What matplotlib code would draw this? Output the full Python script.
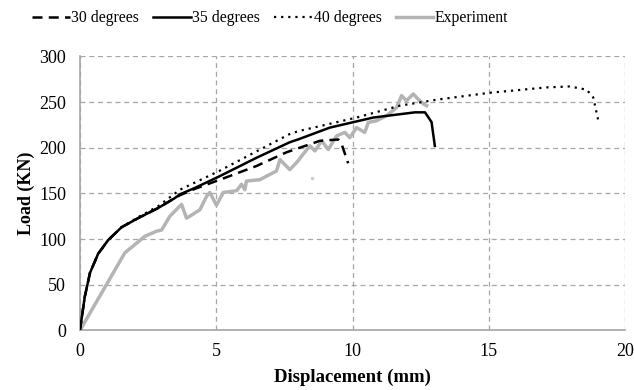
import numpy as np
import matplotlib
matplotlib.use('Agg')
import matplotlib.pyplot as plt

plt.rcParams['font.family'] = ['Liberation Serif', 'DejaVu Serif']

# 30 degrees
x30 = [0, 0.18, 0.37, 0.67, 1.04, 1.53, 2.14, 2.87, 3.49, 3.67, 4.22, 5.14, 6.48, 7.58, 8.8, 9.48, 9.6, 9.84]
y30 = [0, 37, 63, 84, 99, 113, 123, 134, 145, 148, 155, 165, 180, 195, 207.5, 209, 204, 183]
# 35 degrees
x35 = [0, 0.18, 0.37, 0.67, 1.04, 1.53, 2.14, 2.87, 3.49, 3.67, 4.22, 5.14, 6.48, 7.7, 8.0, 9.17, 10.76, 12.29, 12.66, 12.9, 13.02]
y35 = [0, 37, 63, 84, 99, 113, 123, 134, 145, 149, 156, 169, 189, 206, 209, 222, 233, 238.7, 238.7, 228, 202]
# 40 degrees
x40 = [0, 0.18, 0.37, 0.67, 1.04, 1.53, 2.14, 2.87, 3.67, 5.14, 6.48, 7.7, 8.0, 10.15, 11.74, 13.08, 15.0, 17.12, 17.97, 18.59, 18.83, 19.01]
y40 = [0, 37, 63, 84, 99, 113, 124, 136, 154, 175, 196, 215, 218, 233, 246, 252.5, 260, 266, 267, 263.5, 255, 230.5]
# Experiment
xexp = [0, 1.65, 2.26, 2.38, 2.81, 3.0, 3.12, 3.3, 3.73, 3.91, 4.03, 4.4, 4.65, 4.77, 5.01, 5.26, 5.75, 5.93,
        6.05, 6.11, 6.6, 7.21, 7.34, 7.7, 8.0, 8.19, 8.44, 8.62, 8.87, 9.11, 9.42, 9.72, 9.9, 10.15, 10.45,
        10.58, 10.88, 11.25, 11.62, 11.8, 11.98, 12.23, 12.41, 12.6, 12.72]
yexp = [0, 85, 100, 103, 108.6, 110, 116, 125, 138, 123, 125, 132, 147, 151, 137, 151, 153, 160,
        154, 163.5, 165, 174.5, 187, 176, 185.5, 193, 202, 196.5, 207.5, 198, 213, 216.7, 211, 222, 216.7,
        227.7, 229.5, 235, 244, 257, 251.4, 258.8, 253, 248, 246]
xtick = [0, 5, 10, 15, 20]
ytick = [0, 50, 100, 150, 200, 250, 300]

fig = plt.figure(figsize=(6.34, 3.9), dpi=100)
ax = fig.add_axes([0.126, 0.1526, 0.86, 0.703])

grid = '#a6a6a6'
ax.plot(xexp, yexp, color='#b4b4b4', linewidth=2.5, label='Experiment', zorder=2)
ax.plot(x30, y30, color='black', linewidth=1.8, linestyle=(0, (4, 2.5)), label='30 degrees', zorder=3)
ax.plot(x35, y35, color='black', linewidth=1.8, label='35 degrees', zorder=3)
ax.plot(x40, y40, color='black', linewidth=1.6, linestyle=(0, (1, 2.2)), label='40 degrees', zorder=3)
ax.plot([8.5], [167], marker='o', markersize=1.5, color='#cccccc', linestyle='none')

ax.set_xlim(0, 20)
ax.set_ylim(0, 300)
ax.set_xticks(xtick)
ax.set_yticks(ytick)
ax.grid(True, color=grid, linestyle=(0, (4, 3)), linewidth=0.9)
ax.set_axisbelow(True)
for s in ['top', 'right']:
    ax.spines[s].set_visible(False)
for s in ['left', 'bottom']:
    ax.spines[s].set_color(grid)
    ax.spines[s].set_linewidth(1.2)
ax.tick_params(length=0, labelsize=13)
ax.tick_params(axis='y', pad=10)
ax.tick_params(axis='x', pad=9)
ax.set_xlabel('Displacement (mm)', fontsize=13.5, fontweight='bold', labelpad=6)
ax.set_ylabel('Load (KN)', fontsize=13, fontweight='bold', labelpad=3)

h, l = ax.get_legend_handles_labels()
order = [1, 2, 3, 0]
fig.legend([h[i] for i in order], [l[i] for i in order], loc='upper left', bbox_to_anchor=(0.028, 1.01),
           ncol=4, frameon=False, fontsize=11.3, handlelength=2.4, handletextpad=0.1, columnspacing=0.9)

plt.savefig('out.png', dpi=100)
